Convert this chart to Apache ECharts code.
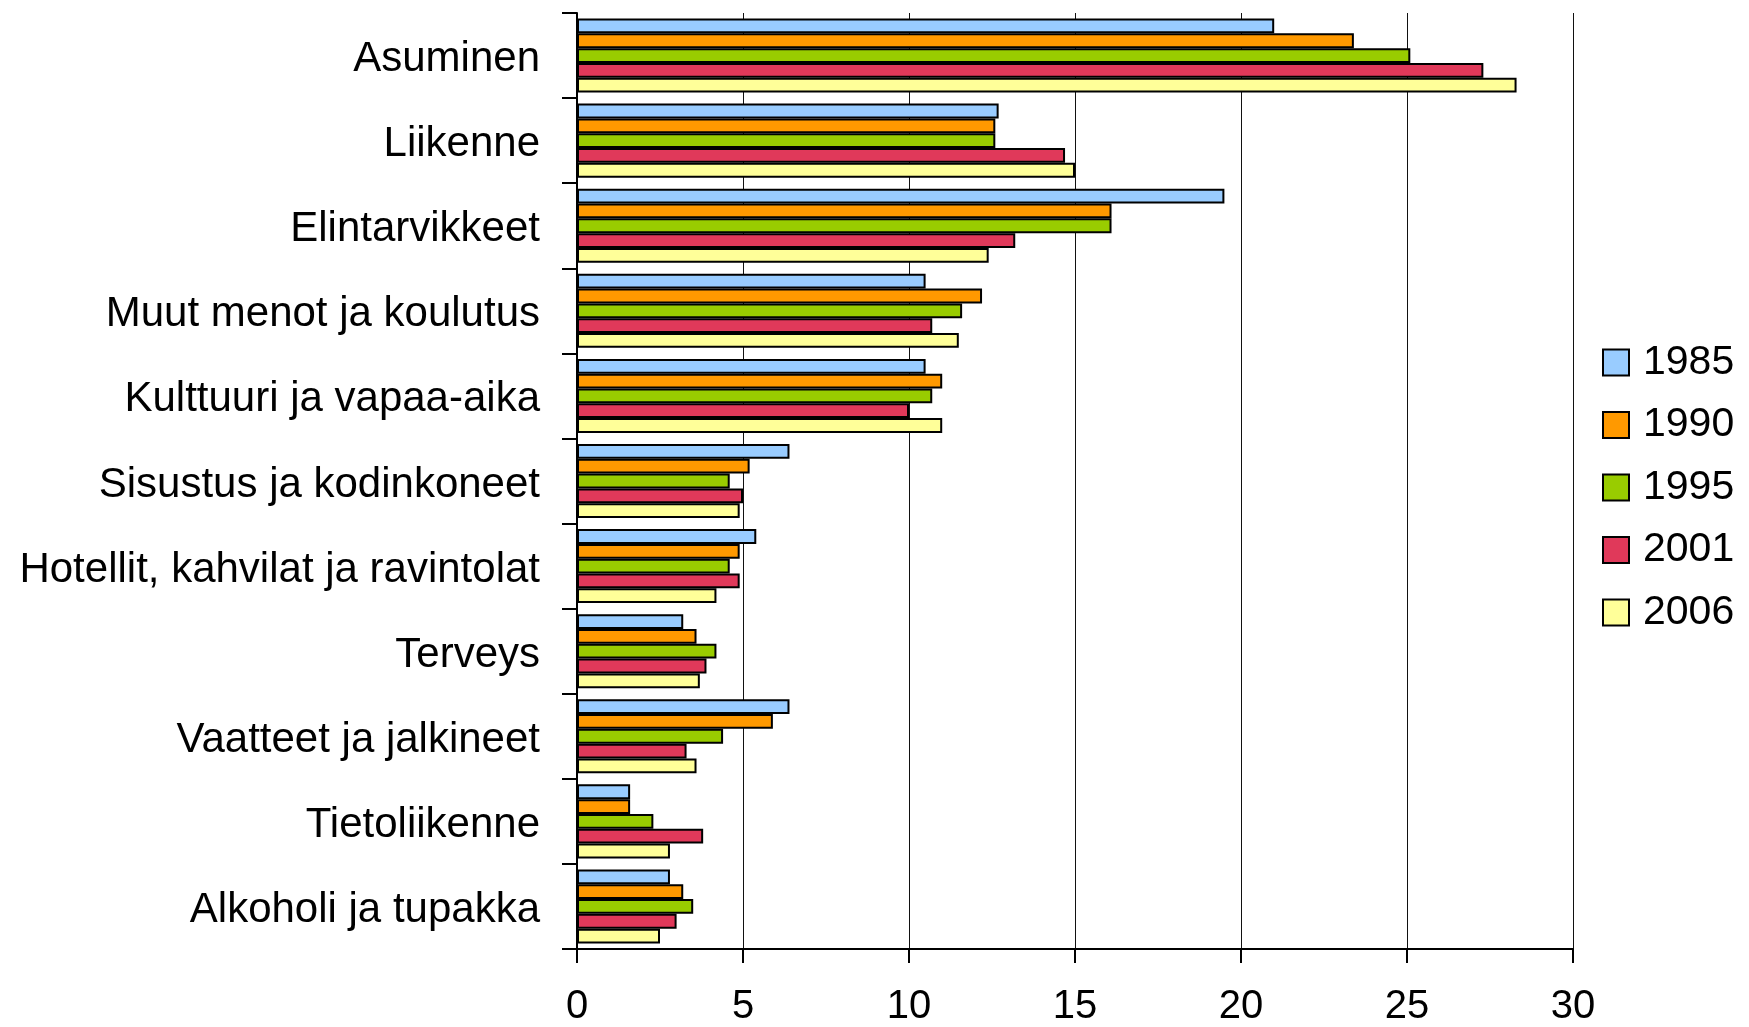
<!DOCTYPE html>
<html>
<head>
<meta charset="utf-8">
<script src="https://cdn.jsdelivr.net/npm/echarts@6/dist/echarts.min.js"></script>
<style>
html,body{margin:0;padding:0;background:#fff;}
#chart{width:1749px;height:1027px;}
</style>
</head>
<body>
<div id="chart"></div>
<script>
const categories = ["Asuminen","Liikenne","Elintarvikkeet","Muut menot ja koulutus","Kulttuuri ja vapaa-aika","Sisustus ja kodinkoneet","Hotellit, kahvilat ja ravintolat","Terveys","Vaatteet ja jalkineet","Tietoliikenne","Alkoholi ja tupakka"];
const years = ["1985","1990","1995","2001","2006"];
const v1985 = [21.0,12.7,19.5,10.5,10.5,6.4,5.4,3.2,6.4,1.6,2.8];
const v1990 = [23.4,12.6,16.1,12.2,11.0,5.2,4.9,3.6,5.9,1.6,3.2];
const v1995 = [25.1,12.6,16.1,11.6,10.7,4.6,4.6,4.2,4.4,2.3,3.5];
const v2001 = [27.3,14.7,13.2,10.7,10.0,5.0,4.9,3.9,3.3,3.8,3.0];
const v2006 = [28.3,15.0,12.4,11.5,11.0,4.9,4.2,3.7,3.6,2.8,2.5];
const xTicks = [0,5,10,15,20,25,30];

const seriesValues = [v1985,v1990,v1995,v2001,v2006];
const colors = ["#99CCFF","#FF9900","#99CC00","#E0395A","#FFFF99"];
const FONT = "'Liberation Sans', Arial, sans-serif";

const chart = echarts.init(document.getElementById('chart'), null, {renderer:'canvas'});
chart.setOption({
  animation:false,
  backgroundColor:'#ffffff',
  grid:{left:577,top:13,width:996,height:940,containLabel:false},
  legend:{
    orient:'vertical',
    left:1597,
    top:337,
    icon:'rect',
    itemWidth:26,
    itemHeight:26,
    itemGap:21.5,
    data:years,
    itemStyle:{borderColor:'#000',borderWidth:2},
    textStyle:{fontFamily:FONT,fontSize:41,color:'#000',lineHeight:40,padding:[0,0,0,9]}
  },
  xAxis:{
    type:'value',
    min:xTicks[0],
    max:xTicks[xTicks.length-1],
    interval:5,
    axisLine:{show:true,lineStyle:{color:'#000',width:2}},
    axisTick:{show:true,length:14,lineStyle:{color:'#000',width:2}},
    axisLabel:{fontFamily:FONT,fontSize:40,color:'#000',margin:38},
    splitLine:{show:true,lineStyle:{color:'#111',width:1}}
  },
  yAxis:{
    type:'category',
    data:categories,
    inverse:true,
    axisLine:{show:true,lineStyle:{color:'#000',width:2}},
    axisTick:{show:true,length:15,lineStyle:{color:'#000',width:2}},
    axisLabel:{fontFamily:FONT,fontSize:42,color:'#000',margin:37,verticalAlign:'top',lineHeight:8},
    splitLine:{show:false}
  },
  series: years.map((y,i)=>({
    name:y,
    type:'bar',
    data:seriesValues[i],
    barGap:'0%',
    barCategoryGap:'13%',
    itemStyle:{color:colors[i],borderColor:'#000',borderWidth:2}
  }))
});
</script>
</body>
</html>
